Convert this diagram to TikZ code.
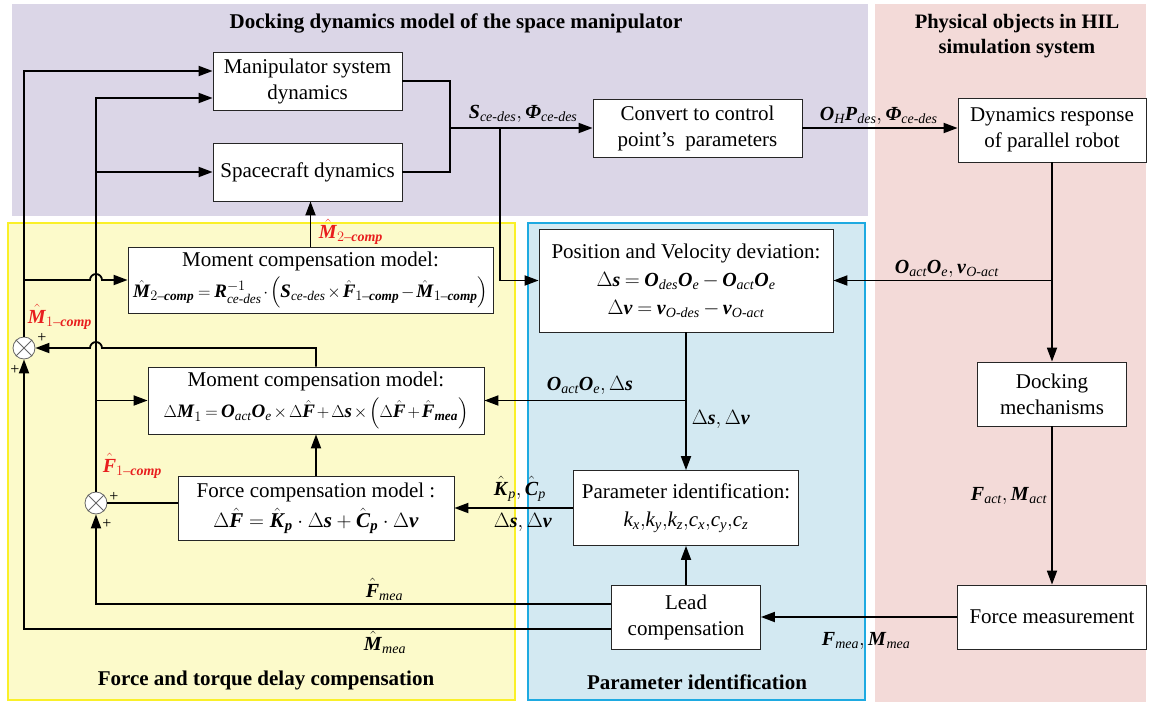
\documentclass[tikz,border=0pt]{standalone}
\usepackage{amsmath}
\usepackage{fontspec}
\setmainfont{Liberation Serif}
\usetikzlibrary{arrows.meta,calc}
\newcommand{\bv}[1]{\textbf{\textit{#1}}}
\newcommand{\iv}[1]{\textit{#1}}
\newcommand{\hbv}[1]{\hat{\bv{#1}}}
\newcommand{\fmlsize}{\fontsize{19}{24}\selectfont\medmuskip=2mu\thickmuskip=4mu}
\newcommand{\fmlmid}{\fontsize{20}{24}\selectfont\medmuskip=3mu\thickmuskip=4mu}
\newcommand{\fmldm}{\fontsize{19}{24}\selectfont\medmuskip=2mu\thickmuskip=3.5mu}
\newcommand{\fmlbig}{\fontsize{21}{24}\selectfont}
\definecolor{purp}{RGB}{219,214,231}
\definecolor{pinkbg}{RGB}{243,218,216}
\definecolor{yel}{RGB}{252,250,202}
\definecolor{yelb}{RGB}{250,240,40}
\definecolor{blu}{RGB}{211,233,242}
\definecolor{blub}{RGB}{30,170,225}
\definecolor{redl}{RGB}{232,30,30}
\begin{document}
\begin{tikzpicture}[x=1pt,y=-1pt,line width=1.8pt,
  >={Triangle[length=14pt,width=10pt]},
  box/.style={draw=black!85,line width=0.8pt,fill=white,align=center,inner sep=0pt,font=\fontsize{21}{26}\selectfont},
  lab/.style={anchor=base west,inner sep=0pt,font=\fontsize{20}{24}\selectfont},
  ttl/.style={inner sep=0pt,align=center,font=\fontsize{21}{25}\selectfont\bfseries},
  sumc/.style={draw=black!60,circle,line width=0.8pt,fill=white,minimum size=22pt,inner sep=0pt},
  pl/.style={inner sep=0pt,font=\fontsize{16}{16}\selectfont}]
\useasboundingbox (0,0) rectangle (1150,704);
\fill[white] (0,0) rectangle (1150,704);
% regions
\fill[purp] (12,4) rectangle (868,216);
\fill[pinkbg] (875,4) rectangle (1146,702);
\filldraw[fill=yel,draw=yelb,line width=1.5pt] (8,223) rectangle (515,700);
\filldraw[fill=blu,draw=blub,line width=1.5pt] (528,223) rectangle (865,700);
% titles
\node[ttl,anchor=base] (t1) at (456,28) {Docking dynamics model of the space manipulator};
\node[ttl,font=\fontsize{20.5}{25}\selectfont\bfseries] (t2) at (1017,36) {Physical objects in HIL\\simulation system};
\node[ttl,anchor=base] (t3) at (266,685) {Force and torque delay compensation};
\node[ttl,anchor=base] (t4) at (697,689) {Parameter identification};
% boxes
\node[box,minimum width=189pt,minimum height=58pt] (manip) at (307.5,81) {Manipulator system\\dynamics};
\node[box,minimum width=189pt,minimum height=58pt] (space) at (307.5,172) {Spacecraft dynamics};
\node[box,minimum width=209pt,minimum height=58pt] (convert) at (697.5,128) {Convert to control\\point's\ \ parameters};
\node[box,minimum width=188pt,minimum height=64pt] (dyn) at (1052,130) {Dynamics response\\of parallel robot};
\node[box,minimum width=294pt,minimum height=103pt,font=\fontsize{21}{28}\selectfont] (pos) at (686,280.5) {Position and Velocity deviation:\\
 {\fmlmid$\Delta\bv{s}=\bv{O}_{\iv{des}}\bv{O}_{\iv{e}}-\bv{O}_{\iv{act}}\bv{O}_{\iv{e}}$}\\
 {\fmlmid$\Delta\bv{v}=\bv{v}_{\iv{O-des}}-\bv{v}_{\iv{O-act}}$}};
\node[box,minimum width=365pt,minimum height=66pt,font=\fontsize{21}{31}\selectfont] (m2) at (310.5,280) {Moment compensation model:\\
 {\fmlsize$\hbv{M}_{2\text{–}\bv{comp}}=\bv{R}^{-1}_{\iv{ce-des}}\cdot\Bigl(\bv{S}_{\iv{ce-des}}\times\hbv{F}_{1\text{–}\bv{comp}}-\hbv{M}_{1\text{–}\bv{comp}}\Bigr)$}};
\node[box,minimum width=336pt,minimum height=67pt,font=\fontsize{21}{31}\selectfont] (dm1) at (316,400.5) {Moment compensation model:\\
 {\fmldm$\Delta\bv{M}_1=\bv{O}_{\iv{act}}\bv{O}_{\iv{e}}\times\Delta\hbv{F}+\Delta\bv{s}\times\Bigl(\Delta\hbv{F}+\hbv{F}_{\bv{mea}}\Bigr)$}};
\node[box,minimum width=276pt,minimum height=64pt,font=\fontsize{21}{30}\selectfont] (fc) at (316,508) {Force compensation model :\\
 {\fmlbig$\Delta\hbv{F}=\hbv{K}_{\bv{p}}\cdot\Delta\bv{s}+\hbv{C}_{\bv{p}}\cdot\Delta\bv{v}$}};
\node[box,minimum width=225pt,minimum height=75pt,font=\fontsize{21}{28}\selectfont] (param) at (686,508) {Parameter identification:\\
 $\iv{k}_{\iv{x}}{,}\iv{k}_{\iv{y}}{,}\iv{k}_{\iv{z}}{,}\iv{c}_{\iv{x}}{,}\iv{c}_{\iv{y}}{,}\iv{c}_{\iv{z}}$};
\node[box,minimum width=149pt,minimum height=64pt] (lead) at (686,617) {Lead\\compensation};
\node[box,minimum width=149pt,minimum height=64pt] (dock) at (1052,394) {Docking\\mechanisms};
\node[box,minimum width=189pt,minimum height=64pt] (force) at (1052,617) {Force measurement};
% summing junctions
\node[sumc] (c1) at (24,348) {};
\node[sumc] (c2) at (96,503) {};
\foreach \c in {c1,c2}{
  \draw[line width=0.8pt,black!60] (\c.north west) -- (\c.south east) (\c.north east) -- (\c.south west);}
\node[pl] (p1) at (42,338) {+};
\node[pl] (p2) at (15,370) {+};
\node[pl] (p3) at (114,497) {+};
\node[pl] (p4) at (107,524) {+};
% junction coordinates
\coordinate (j1) at (450,128);
\coordinate (j2) at (500,128);
% connectors
\draw (manip.east) -| (j1);
\draw (space.east) -| (j1);
\draw[->] (j1) -- (convert.west);
\draw[->] (j2) |- (pos.west);
\draw[->] (convert.east) -- (convert.east -| dyn.west);
\draw[->] (dyn.south) -- (dock.north);
\draw[->] (dyn.south |- pos.east) -- (pos.east);
\draw[->] (dock.south) -- (force.north);
\draw[->] (force.west) -- (lead.east);
\draw[->] (lead.north) -- (param.south);
\draw[->] (pos.south) -- (param.north);
\draw[->] (pos.south |- dm1.east) -- (dm1.east);
\draw[->] (param.west) -- (param.west -| fc.east);
\draw[->] (fc.north) -- (dm1.south);
\draw[->] (m2.north) -- (m2.north |- space.south);
\draw[->] (c1.north) |- ([yshift=10pt]manip.west);
\draw[->] (c2.north) |- ([yshift=-17pt]manip.west);
\draw[->] (c2 |- space.west) -- (space.west);
\draw[->] (c2 |- dm1.west) -- (dm1.west);
\draw[->] (c1 |- m2.west) -- ([xshift=-6pt]c2 |- m2.west) arc[start angle=180,end angle=360,radius=6] -- (m2.west);
\draw[->] (dm1.north) -- (dm1.north |- c1) -- ([xshift=6pt]c2 |- c1) arc[start angle=0,end angle=-180,radius=6] -- (c1.east);
\draw (c2.east) -- (c2.east -| fc.west);
\draw[->] ([yshift=13pt]lead.west) -| (c2.south);
\draw[->] ([yshift=-12pt]lead.west) -| (c1.south);
% labels
\node[lab] (lS) at (468,118) {$\bv{S}_{\iv{ce-des}},\bv{Φ}_{\iv{ce-des}}$};
\node[lab] (lO) at (819,120) {$\bv{O}_{\iv{H}}\bv{P}_{\iv{des}},\bv{Φ}_{\iv{ce-des}}$};
\node[lab] (lOv) at (894,273) {$\bv{O}_{\iv{act}}\bv{O}_{\iv{e}},\bv{v}_{\iv{O-act}}$};
\node[lab] (lOs) at (546,390) {$\bv{O}_{\iv{act}}\bv{O}_{\iv{e}},\Delta\bv{s}$};
\node[lab] (lds1) at (691,424) {$\Delta\bv{s},\Delta\bv{v}$};
\node[lab] (lKC) at (493,495) {$\hbv{K}_{\iv{p}},\hbv{C}_{\iv{p}}$};
\node[lab] (lds2) at (493,527) {$\Delta\bv{s},\Delta\bv{v}$};
\node[lab] (lFa) at (970,500) {$\bv{F}_{\iv{act}},\bv{M}_{\iv{act}}$};
\node[lab] (lFm) at (821,645) {$\bv{F}_{\iv{mea}},\bv{M}_{\iv{mea}}$};
\node[lab] (lFh) at (365,597) {$\hbv{F}_{\iv{mea}}$};
\node[lab] (lMh) at (363,650) {$\hbv{M}_{\iv{mea}}$};
\node[lab,text=redl] (lM2) at (318,238) {$\hbv{M}_{2\text{–}\bv{comp}}$};
\node[lab,text=redl] (lM1) at (27,323) {$\hbv{M}_{1\text{–}\bv{comp}}$};
\node[lab,text=redl] (lF1) at (102,472) {$\hbv{F}_{1\text{–}\bv{comp}}$};
\end{tikzpicture}
\end{document}
